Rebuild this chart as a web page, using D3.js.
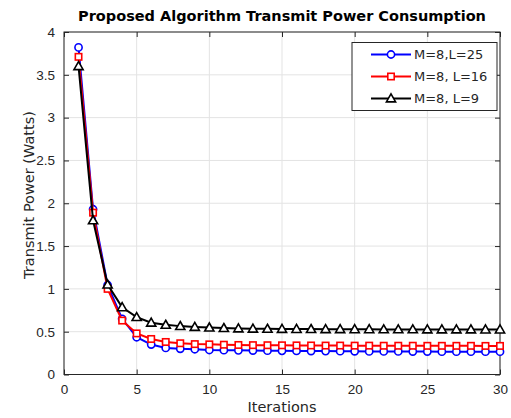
<!DOCTYPE html>
<html>
<head>
<meta charset="utf-8">
<script src="https://cdn.jsdelivr.net/npm/d3@7"></script>
<style>
  html, body { margin: 0; padding: 0; background: #fff; overflow: hidden; }
  svg { display: block; font-family: "DejaVu Sans", sans-serif; }
</style>
</head>
<body>
<svg id="chart" width="511" height="418"></svg>
<script>
const iterations = d3.range(1, 31);

const powerL25 = [3.82, 1.93, 1.045, 0.65, 0.435, 0.35, 0.31, 0.30, 0.295, 0.286,
  0.284, 0.282, 0.28, 0.278, 0.276, 0.275, 0.274, 0.273, 0.272, 0.271,
  0.27, 0.27, 0.269, 0.268, 0.268, 0.267, 0.267, 0.266, 0.266, 0.266];
const powerL16 = [3.71, 1.89, 1.00, 0.63, 0.48, 0.415, 0.38, 0.365, 0.355, 0.352,
  0.348, 0.345, 0.343, 0.342, 0.341, 0.34, 0.339, 0.338, 0.338, 0.337,
  0.337, 0.336, 0.336, 0.336, 0.335, 0.335, 0.335, 0.335, 0.334, 0.334];
const powerL9 = [3.60, 1.80, 1.05, 0.785, 0.67, 0.605, 0.58, 0.565, 0.555, 0.548,
  0.542, 0.538, 0.535, 0.533, 0.532, 0.531, 0.53, 0.529, 0.529, 0.528,
  0.528, 0.527, 0.527, 0.527, 0.526, 0.526, 0.526, 0.526, 0.525, 0.525];

const seriesLabels = ["M=8,L=25", "M=8, L=16", "M=8, L=9"];
const seriesColors = ["#0000ff", "#ff0000", "#000000"];
const seriesMarkers = ["circle", "square", "triangle"];

const xTicks = [0, 5, 10, 15, 20, 25, 30];
const yTicks = [0, 0.5, 1, 1.5, 2, 2.5, 3, 3.5, 4];

const series = [powerL25, powerL16, powerL9].map((vals, i) => ({
  label: seriesLabels[i],
  color: seriesColors[i],
  marker: seriesMarkers[i],
  points: vals.map((v, j) => ({ x: iterations[j], y: v }))
}));

const svg = d3.select("#chart");
const margin = { left: 64, right: 11, top: 32, bottom: 43.5 };
const width = 511, height = 418;
const innerWidth = width - margin.left - margin.right;
const innerHeight = height - margin.top - margin.bottom;

const xScale = d3.scaleLinear().domain([0, 30]).range([0, innerWidth]);
const yScale = d3.scaleLinear().domain([0, 4]).range([innerHeight, 0]);

const innerChart = svg.append("g")
  .attr("transform", `translate(${margin.left},${margin.top})`);

//Grid lines
innerChart.append("g")
  .selectAll("line")
  .data(xTicks)
  .join("line")
    .attr("x1", d => xScale(d)).attr("x2", d => xScale(d))
    .attr("y1", 0).attr("y2", innerHeight)
    .attr("stroke", "#e3e3e3").attr("stroke-width", 1);
innerChart.append("g")
  .selectAll("line")
  .data(yTicks)
  .join("line")
    .attr("y1", d => yScale(d)).attr("y2", d => yScale(d))
    .attr("x1", 0).attr("x2", innerWidth)
    .attr("stroke", "#e3e3e3").attr("stroke-width", 1);

//Axes, ticks pointing inward
const axisColor = "#262626";
const fmt = d => String(d);
const styleAxis = g => {
  g.select(".domain").remove();
  g.selectAll(".tick line").attr("stroke", axisColor);
  g.selectAll(".tick text").attr("fill", axisColor).attr("font-size", 13.5);
};
//Top and right axes carry tick marks only
const marksOnly = g => {
  g.select(".domain").remove();
  g.selectAll(".tick text").remove();
  g.selectAll(".tick line").attr("stroke", axisColor);
};

innerChart.append("g")
  .attr("transform", `translate(0,${innerHeight})`)
  .call(d3.axisBottom(xScale).tickValues(xTicks).tickFormat(fmt).tickSize(-5).tickPadding(10))
  .call(styleAxis);
innerChart.append("g")
  .call(d3.axisTop(xScale).tickValues(xTicks).tickSize(-5))
  .call(marksOnly);
innerChart.append("g")
  .call(d3.axisLeft(yScale).tickValues(yTicks).tickFormat(fmt).tickSize(-5).tickPadding(9))
  .call(styleAxis);
innerChart.append("g")
  .attr("transform", `translate(${innerWidth},0)`)
  .call(d3.axisRight(yScale).tickValues(yTicks).tickSize(-5))
  .call(marksOnly);

innerChart.append("rect")
  .attr("width", innerWidth).attr("height", innerHeight)
  .attr("fill", "none").attr("stroke", axisColor).attr("stroke-width", 1);

//Marker drawing helper
const drawMarker = (sel, type, color) => {
  if (type === "circle") {
    sel.append("circle").attr("r", 3.6);
  } else if (type === "square") {
    sel.append("rect").attr("x", -3.2).attr("y", -3.2).attr("width", 6.4).attr("height", 6.4);
  } else {
    sel.append("path").attr("d", "M0,-4.6L4.6,3.4L-4.6,3.4Z");
  }
  sel.selectAll("circle,rect,path")
    .attr("fill", "#fff").attr("stroke", color).attr("stroke-width", 1.6);
};

const line = d3.line().x(d => xScale(d.x)).y(d => yScale(d.y));

series.forEach(s => {
  innerChart.append("path")
    .datum(s.points)
    .attr("d", line)
    .attr("fill", "none")
    .attr("stroke", s.color)
    .attr("stroke-width", 2);
  innerChart.append("g")
    .selectAll("g")
    .data(s.points)
    .join("g")
      .attr("transform", d => `translate(${xScale(d.x)},${yScale(d.y)})`)
      .each(function() { drawMarker(d3.select(this), s.marker, s.color); });
});

//Legend
const legend = svg.append("g").attr("transform", "translate(352,42.5)");
legend.append("rect")
  .attr("width", 145).attr("height", 68)
  .attr("fill", "#fff").attr("stroke", axisColor).attr("stroke-width", 1);
series.forEach((s, i) => {
  const row = legend.append("g").attr("transform", `translate(0,${12 + i * 22})`);
  row.append("line")
    .attr("x1", 19).attr("x2", 59)
    .attr("stroke", s.color).attr("stroke-width", 2);
  const m = row.append("g").attr("transform", "translate(39,0)");
  drawMarker(m, s.marker, s.color);
  row.append("text")
    .attr("x", 62).attr("y", 4.5)
    .attr("font-size", 13).attr("fill", axisColor)
    .text(s.label);
});

//Title and axis labels
svg.append("text")
  .attr("x", margin.left + innerWidth / 2).attr("y", 21)
  .attr("text-anchor", "middle")
  .attr("font-size", 14.5).attr("font-weight", "bold").attr("fill", "#000")
  .text("Proposed Algorithm Transmit Power Consumption");
svg.append("text")
  .attr("x", margin.left + innerWidth / 2).attr("y", 412)
  .attr("text-anchor", "middle")
  .attr("font-size", 14.5).attr("fill", axisColor)
  .text("Iterations");
svg.append("text")
  .attr("transform", `translate(34,195) rotate(-90)`)
  .attr("text-anchor", "middle")
  .attr("font-size", 14.5).attr("fill", axisColor)
  .text("Transmit Power (Watts)");
</script>
</body>
</html>
